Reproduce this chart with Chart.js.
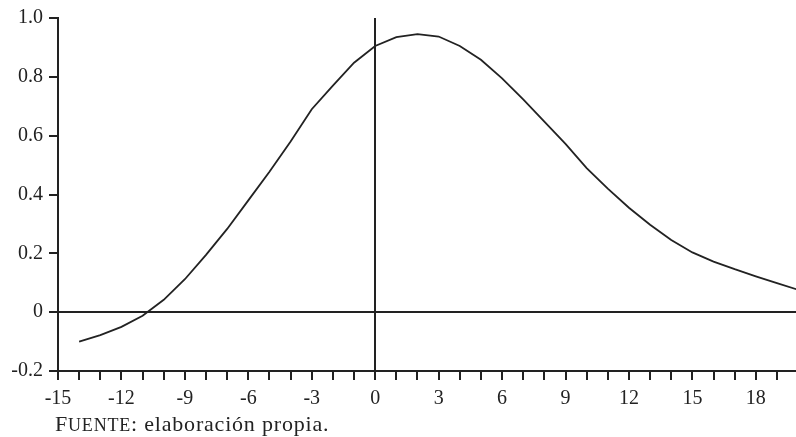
<!DOCTYPE html>
<html>
<head>
<meta charset="utf-8">
<script src="https://cdn.jsdelivr.net/npm/chart.js@4.4.1/dist/chart.umd.min.js"></script>
<style>
  body { margin: 0; background: #fff; }
  #wrap { position: relative; width: 796px; height: 437px; }
  #fuente {
    position: absolute; left: 55px; top: 411px;
    font-family: "Liberation Serif", serif; font-size: 22px; color: #222;
    letter-spacing: 0.8px; white-space: nowrap;
  }
  #fuente .sc { font-size: 18px; }
</style>
</head>
<body>
<div id="wrap">
  <canvas id="grafica" width="796" height="437"></canvas>
  <div id="fuente">F<span class="sc">UENTE</span>: elaboración propia.</div>
</div>
<script>
// rezagos / adelantos
var periodos = [-14, -13, -12, -11, -10, -9, -8, -7, -6, -5, -4, -3, -2, -1, 0,
  1, 2, 3, 4, 5, 6, 7, 8, 9, 10, 11, 12, 13, 14, 15, 16, 17, 18, 19, 20];
// correlacion
var correlacion = [-0.100, -0.078, -0.050, -0.012, 0.042, 0.112, 0.195, 0.283, 0.380, 0.477, 0.580, 0.690, 0.770, 0.848, 0.905,
  0.935, 0.945, 0.937, 0.905, 0.858, 0.795, 0.723, 0.648, 0.572, 0.490, 0.420, 0.355, 0.297, 0.245, 0.203,
  0.172, 0.146, 0.122, 0.099, 0.076];

var puntos = [];
for (var i in periodos) {
  puntos.push({ x: periodos[i], y: correlacion[i] });
}

var tinta = '#222';
var fuente = { family: '"Liberation Serif", serif', size: 20 };

// solo se ve la linea del cero
function lineaCero(ctx) {
  return ctx.tick && Math.abs(ctx.tick.value) < 1e-9 ? tinta : 'rgba(0,0,0,0)';
}

var ctx = document.getElementById('grafica');
var grafica = new Chart(ctx, {
  type: 'line',
  data: {
    datasets: [{
      label: '',
      data: puntos,
      borderColor: tinta,
      borderWidth: 1.8,
      pointRadius: 0,
      tension: 0,
      fill: false
    }]
  },
  options: {
    responsive: false,
    animation: false,
    layout: { padding: { top: 16, left: 0, right: 0, bottom: 0 } },
    plugins: { legend: { display: false }, tooltip: { enabled: false } },
    scales: {
      x: {
        type: 'linear',
        min: -15,
        max: 19.9,
        border: { display: true, color: tinta, width: 2 },
        grid: { color: lineaCero, lineWidth: 2, tickColor: tinta, tickWidth: 2, tickLength: 9 },
        ticks: {
          stepSize: 1,
          autoSkip: false,
          includeBounds: false,
          maxRotation: 0,
          padding: 7,
          color: tinta,
          font: fuente,
          callback: function (v) { return v % 3 === 0 ? String(v) : ''; }
        },
        afterFit: function (scale) { scale.height = 66; }
      },
      y: {
        min: -0.2,
        max: 1.0,
        border: { display: true, color: tinta, width: 2 },
        grid: { color: lineaCero, lineWidth: 2, tickColor: tinta, tickWidth: 2, tickLength: 9 },
        ticks: {
          stepSize: 0.2,
          padding: 6,
          color: tinta,
          font: fuente,
          callback: function (v) {
            var r = Math.round(v * 10) / 10;
            return r === 0 ? '0' : r.toFixed(1);
          }
        },
        afterFit: function (scale) { scale.width = 58; }
      }
    }
  }
});
</script>
</body>
</html>
